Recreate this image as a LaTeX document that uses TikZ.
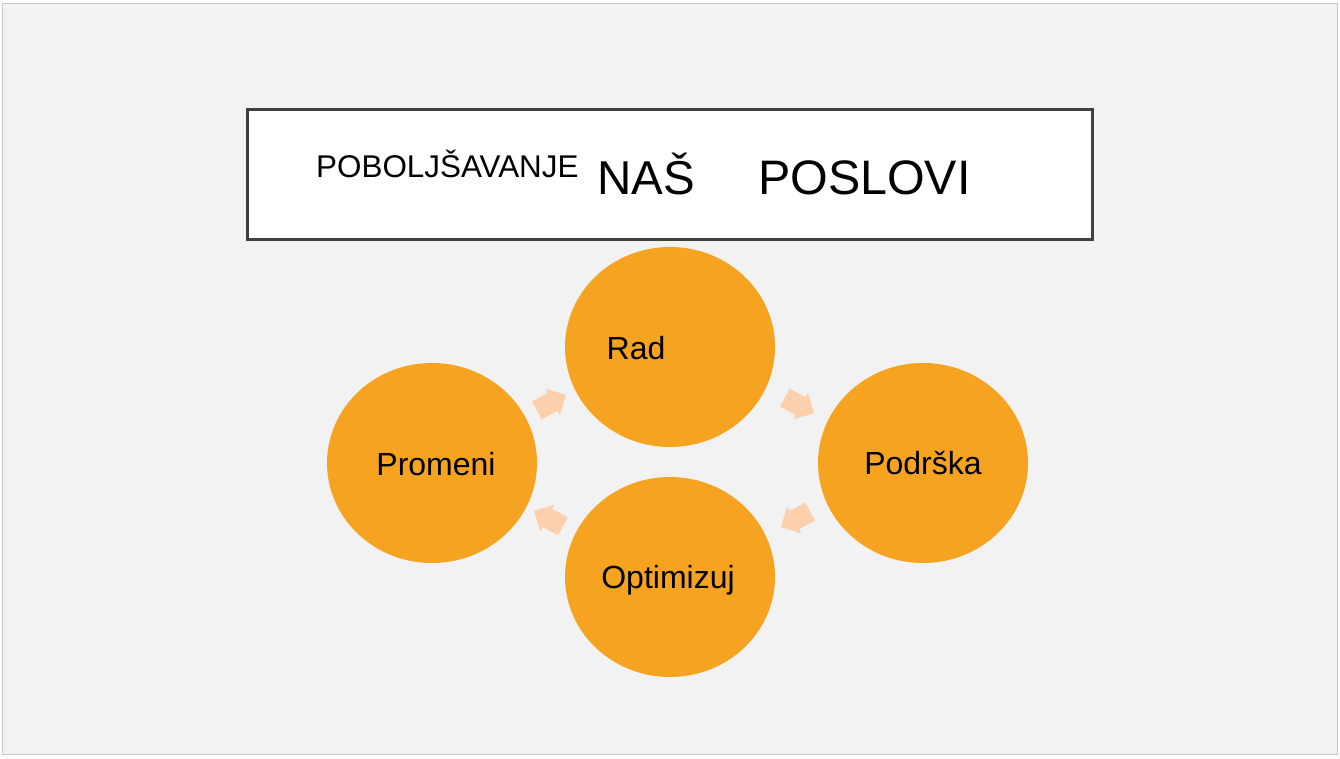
\documentclass[tikz,border=0pt]{standalone}
\usepackage{fontspec}
\setmainfont{Liberation Sans}
\usetikzlibrary{shapes.geometric,shapes.arrows}
\definecolor{slidebg}{HTML}{F2F2F2}
\definecolor{slideline}{HTML}{C8C8C8}
\definecolor{boxline}{HTML}{404040}
\definecolor{cycleorange}{HTML}{F5A320}
\definecolor{arrowpeach}{HTML}{FCD0AD}
\tikzset{
  stage/.style={ellipse, fill=cycleorange, minimum width=210pt, minimum height=200pt, inner sep=0pt},
  stagetext/.style={inner sep=0pt, text height=0.72em, text depth=0pt, font=\fontsize{32}{36}\selectfont},
  turn/.style={single arrow, fill=arrowpeach, minimum height=33pt, inner xsep=0pt, inner ysep=10pt,
    single arrow head extend=5pt},
}
\begin{document}
\begin{tikzpicture}[x=1pt,y=1pt]
\useasboundingbox (0,0) rectangle (1340,758);
\draw[slideline, fill=slidebg] (2,4) rectangle (1337,755);
\node[draw=boxline, line width=3pt, fill=white, minimum width=845pt, minimum height=130pt, inner sep=0pt] (title) at (669.5,583) {};
\node[anchor=base west, inner sep=0pt, font=\fontsize{31.4}{34}\selectfont] (t1) at (316,580) {POBOLJŠAVANJE};
\node[anchor=base west, inner sep=0pt, font=\fontsize{47.5}{52}\selectfont] (t2) at (597,563) {NAŠ};
\node[anchor=base west, inner sep=0pt, font=\fontsize{48.4}{52}\selectfont] (t3) at (758,563) {POSLOVI};
\node[stage] (1) at (670,411) {};
\node[stage] (2) at (923,295) {};
\node[stage] (3) at (670,181) {};
\node[stage] (4) at (432,295) {};
\node[stagetext] (l1) at (636,402) {Rad};
\node[stagetext] (l2) at (923,287) {Podrška};
\node[stagetext] (l3) at (668,173) {Optimizuj};
\node[stagetext] (l4) at (436,286) {Promeni};
\node[turn, rotate=28] (a1) at (547,353) {};
\node[turn, rotate=-28] (a2) at (795,355) {};
\node[turn, rotate=208] (a3) at (800,241) {};
\node[turn, rotate=152] (a4) at (553,237) {};
\end{tikzpicture}
\end{document}
